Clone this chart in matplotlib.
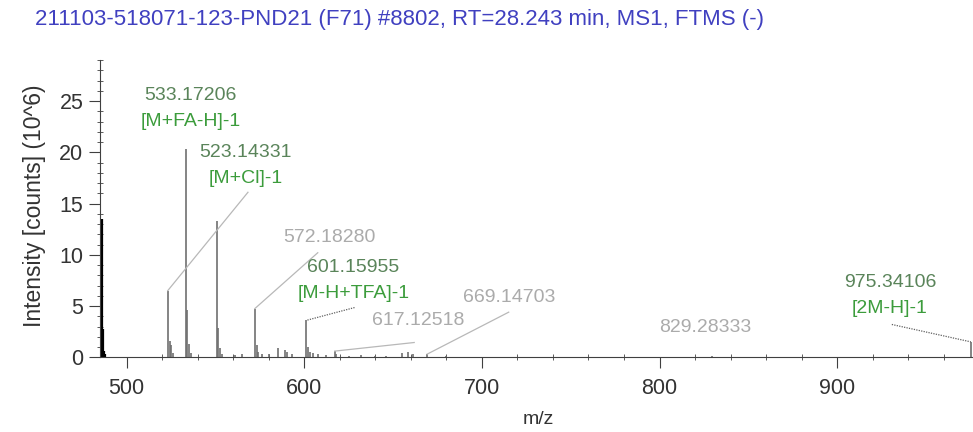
import matplotlib
matplotlib.use("Agg")
import matplotlib.pyplot as plt
from matplotlib.ticker import MultipleLocator

plt.rcParams['font.family'] = ['Liberation Sans', 'DejaVu Sans']

# spectrum peaks (m/z, intensity in 10^6 counts)
black_mz = [486.4, 486.9, 487.5, 488.0]
black_int = [13.5, 2.8, 0.6, 0.3]

peak_mz = [523.14, 524.14, 525.1, 526.1, 533.17, 534.17, 535.17, 536.2,
           550.6, 551.6, 552.6, 553.6, 561.0, 565.0, 572.18, 573.18, 574.2,
           576.0, 580.0, 585.0, 589.0, 590.5, 593.0, 601.16, 602.16, 603.2,
           605.0, 608.0, 612.0, 617.13, 618.1, 625.0, 632.0, 640.0, 646.0,
           655.0, 658.5, 661.0, 669.15, 680.0, 829.28, 975.34]
peak_int = [6.5, 1.6, 1.2, 0.4, 20.3, 4.6, 1.3, 0.4,
            13.3, 2.9, 0.9, 0.3, 0.2, 0.3, 4.75, 1.2, 0.5,
            0.3, 0.3, 0.9, 0.7, 0.5, 0.3, 3.6, 1.0, 0.5,
            0.4, 0.3, 0.25, 0.6, 0.3, 0.15, 0.2, 0.15, 0.1,
            0.4, 0.5, 0.35, 0.3, 0.1, 0.1, 1.5]

# labels: m/z text, ion text, text position, leader start, leader end (peak), style
labels = [
    ("533.17206", "[M+FA-H]-1", 535.9, 24.3, None, None, None),
    ("523.14331", "[M+Cl]-1", 567.0, 18.7, (568.3, 16.1), (523.14, 6.5), "solid"),
    ("572.18280", None, 614.3, 11.7, (607.6, 10.2), (572.18, 4.75), "solid"),
    ("601.15955", "[M-H+TFA]-1", 627.7, 7.5, (628.3, 4.85), (601.16, 3.6), "dotted"),
    ("617.12518", None, 664.1, 3.6, (661.9, 1.44), (617.13, 0.6), "solid"),
    ("669.14703", None, 715.1, 5.8, (715.1, 4.4), (669.15, 0.3), "solid"),
    ("829.28333", None, 826.0, 2.9, None, None, None),
    ("975.34106", "[2M-H]-1", 929.7, 6.0, (930.8, 3.2), (975.34, 1.5), "dotted"),
]

title = "211103-518071-123-PND21 (F71) #8802, RT=28.243 min, MS1, FTMS (-)"

fig = plt.figure(figsize=(9.73, 4.32), dpi=100)
ax = fig.add_axes([100 / 973, 0.173, 873 / 973, 0.688])

ax.vlines(peak_mz, 0, peak_int, color='#707070', lw=1.2)
ax.vlines(black_mz, 0, black_int, color='black', lw=1.6)

for num, ion, tx, ty, p0, p1, style in labels:
    if ion is not None:
        ax.text(tx, ty + 1.25, num, ha='center', va='center', fontsize=14,
                color='#5a845a')
        ax.text(tx, ty - 1.25, ion, ha='center', va='center', fontsize=14,
                color='#3c9c3c')
    else:
        ax.text(tx, ty, num, ha='center', va='center', fontsize=14, color='#ababab')
    if p0 is not None:
        if style == "dotted":
            ax.plot([p0[0], p1[0]], [p0[1], p1[1]], color='#606060', lw=0.9,
                    ls=(0, (1, 1)), clip_on=False)
        else:
            ax.plot([p0[0], p1[0]], [p0[1], p1[1]], color='#b8b8b8', lw=0.9)

ax.set_xlim(485, 976.5)
ax.set_ylim(0, 29)

ax.spines['top'].set_visible(False)
ax.spines['right'].set_visible(False)
ax.spines['left'].set_color('#404040')
ax.spines['bottom'].set_color('#404040')

ax.xaxis.set_major_locator(MultipleLocator(100))
ax.xaxis.set_minor_locator(MultipleLocator(20))
ax.yaxis.set_major_locator(MultipleLocator(5))
ax.yaxis.set_minor_locator(MultipleLocator(1))
ax.tick_params(which='major', direction='out', length=8, color='#404040',
               labelsize=15.5, labelcolor='#333333')
ax.tick_params(axis='x', which='major', pad=7)
ax.tick_params(axis='y', which='major', pad=4)
ax.tick_params(which='minor', direction='inout', length=5, color='#404040')

ax.set_xlabel("m/z", fontsize=14, color='#333333')
ax.xaxis.set_label_coords(0.502, -0.18)
ax.set_ylabel("Intensity [counts] (10^6)", fontsize=16.5, color='#333333')
ax.yaxis.set_label_coords(-0.062, 0.51)

fig.text(35 / 973, 1 - 20 / 432, title, ha='left', va='center', fontsize=16,
         color='#4040c0')

fig.savefig("out.png", dpi=100)
